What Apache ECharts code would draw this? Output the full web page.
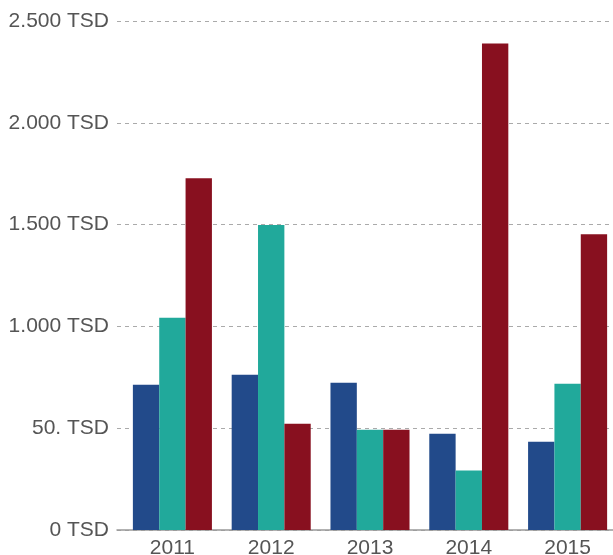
<!DOCTYPE html>
<html>
<head>
<meta charset="utf-8">
<script src="https://cdn.jsdelivr.net/npm/echarts@6/dist/echarts.min.js"></script>
<style>
  html, body { margin: 0; padding: 0; background: #fff; }
  #main { width: 613px; height: 555px; }
</style>
</head>
<body>
<div id="main"></div>
<script>
  // data (values in TSD)
  var years = ['2011', '2012', '2013', '2014', '2015'];
  var seriesBlue = [713, 762, 723, 473, 434];
  var seriesTeal = [1042, 1498, 493, 292, 718];
  var seriesRed = [1728, 522, 493, 2390, 1453];
  var yTicks = [0, 500, 1000, 1500, 2000, 2500];
  var yTickLabels = ['0 TSD', '50. TSD', '1.000 TSD', '1.500 TSD', '2.000 TSD', '2.500 TSD'];

  var font = 'Liberation Sans, Arial, sans-serif';
  var chart = echarts.init(document.getElementById('main'));
  chart.setOption({
    animation: false,
    color: ['#224a8a', '#21a99b', '#88101f'],
    grid: [
      // background grid: tick labels, dashed lines, baseline
      { left: 117, right: 0, top: 21, bottom: 25, outerBoundsMode: 'none' },
      // bars
      { left: 123, width: 494, top: 21, bottom: 25, outerBoundsMode: 'none' }
    ],
    xAxis: [
      {
        gridIndex: 0,
        type: 'category',
        data: years,
        axisTick: { show: false },
        axisLabel: { show: false },
        axisLine: { lineStyle: { color: '#999', width: 1.5 } }
      },
      {
        gridIndex: 1,
        type: 'category',
        data: years,
        axisTick: { show: false },
        axisLine: { show: false },
        axisLabel: { color: '#555', fontSize: 21, fontFamily: font, margin: 8 }
      }
    ],
    yAxis: [
      {
        gridIndex: 0,
        type: 'value',
        min: 0,
        max: 2500,
        interval: 500,
        axisLine: { show: false },
        axisTick: { show: false },
        axisLabel: {
          color: '#555', fontSize: 21, fontFamily: font, margin: 8,
          formatter: function (v) { return yTickLabels[yTicks.indexOf(v)]; }
        },
        splitLine: { lineStyle: { color: '#aaa', type: [4, 4], width: 1 } }
      },
      {
        gridIndex: 1,
        type: 'value',
        min: 0,
        max: 2500,
        interval: 500,
        show: false
      }
    ],
    series: [
      { type: 'bar', xAxisIndex: 1, yAxisIndex: 1, data: seriesBlue, barGap: 0, barCategoryGap: '20%' },
      { type: 'bar', xAxisIndex: 1, yAxisIndex: 1, data: seriesTeal, barGap: 0, barCategoryGap: '20%' },
      { type: 'bar', xAxisIndex: 1, yAxisIndex: 1, data: seriesRed, barGap: 0, barCategoryGap: '20%' }
    ]
  });
</script>
</body>
</html>
